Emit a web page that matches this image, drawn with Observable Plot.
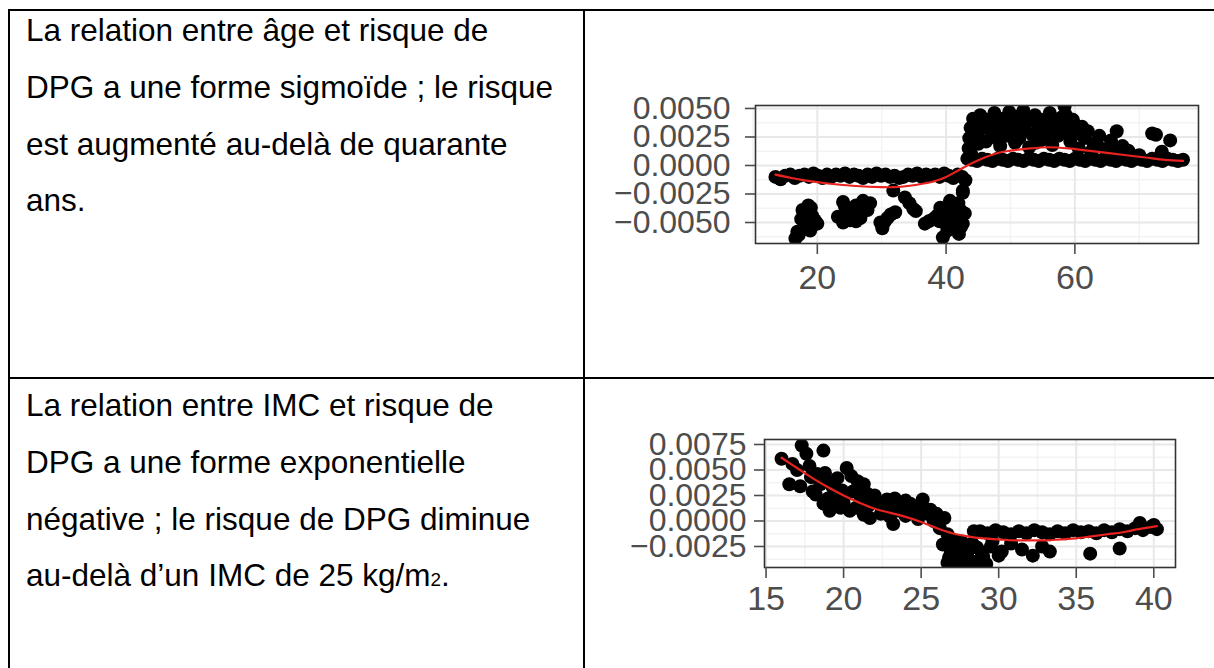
<!DOCTYPE html>
<html><head><meta charset="utf-8">
<script src="https://cdn.jsdelivr.net/npm/d3@7"></script>
<script src="https://cdn.jsdelivr.net/npm/@observablehq/plot@0.6"></script>
<style>
html,body{margin:0;padding:0;background:#fff;width:1214px;height:668px;overflow:hidden;}
.hl{position:absolute;background:#000;}
.txt{position:absolute;left:26px;font-family:"Liberation Sans",Arial,sans-serif;font-size:31.5px;line-height:56.8px;color:#000;white-space:nowrap;}
.chart{position:absolute;}
.sub{font-size:60%;}
</style></head><body>
<div class="hl" style="left:8px;top:9px;width:1206px;height:2px"></div>
<div class="hl" style="left:8px;top:9px;width:2px;height:659px"></div>
<div class="hl" style="left:583px;top:9px;width:2px;height:659px"></div>
<div class="hl" style="left:8px;top:377px;width:1206px;height:2px"></div>
<div class="txt" id="t1" style="top:2px"></div>
<div class="txt" id="t2" style="top:377px"></div>
<div class="chart" id="c1" style="left:600px;top:80px"></div>
<div class="chart" id="c2" style="left:600px;top:400px"></div>
<script>
// ---------- text ----------
const text1 = ["La relation entre âge et risque de", "DPG a une forme sigmoïde ; le risque", "est augmenté au-delà de quarante", "ans."];
const text2 = ["La relation entre IMC et risque de", "DPG a une forme exponentielle", "négative ; le risque de DPG diminue", "au-delà d’un IMC de 25 kg/m", "2", "."];

// ---------- age panel data ----------
const ageX = [13.5,14.3,15.0,15.8,16.5,17.2,18.0,18.7,19.4,20.1,20.8,21.5,22.2,22.9,23.6,24.3,25.0,25.7,26.4,27.1,27.8,28.5,29.2,29.9,30.6,31.3,32.0,32.7,33.4,34.1,34.8,35.5,36.2,36.9,37.6,38.3,39.0,39.7,40.4,41.1,41.8,42.5,43.0,
  18.6,19.2,17.7,20.0,18.1,17.1,16.6,18.9,24.0,24.0,25.6,27.1,26.7,27.8,25.1,24.6,26.0,30.1,30.9,32.1,31.8,33.6,34.9,36.7,38.6,39.1,39.8,40.2,41.1,42.2,42.6,41.9,39.5,42.6,40.6,41.4,40.6,42.6,
  17.5,18.3,19.6,16.9,19.0,18.5,23.2,24.3,25.3,26.3,27.4,26.0,28.2,29.8,30.5,31.4,34.3,35.3,37.3,38.0,39.0,40.0,41.0,41.8,42.3,40.9,42.9,42.0,39.9,
  43.3,43.5,43.6,43.8,44.2,43.9,44.1,
  44.6,44.9,45.3,45.8,46.2,46.6,47.1,47.5,48.0,48.4,48.9,49.3,49.8,50.2,50.7,51.1,51.6,52.0,52.5,52.9,53.4,53.8,54.3,54.7,55.2,55.6,56.1,56.5,57.0,57.4,57.9,58.4,58.8,59.3,59.7,60.2,60.6,61.1,61.5,62.0,62.9,63.8,64.7,65.6,66.5,67.4,68.3,
  44.3,45.0,45.5,46.9,47.8,48.6,49.5,50.0,50.9,51.4,52.2,53.1,53.9,54.5,55.4,56.3,57.2,58.1,58.6,59.5,
  44.0,44.8,45.6,46.4,47.2,48.0,48.8,49.6,50.4,51.2,52.0,52.8,53.6,54.4,55.2,56.0,56.8,57.6,58.4,59.2,60.0,60.8,61.6,62.4,63.2,64.0,64.8,65.6,66.4,67.2,68.0,68.8,69.6,70.4,71.2,72.0,72.8,73.6,74.4,75.2,76.0,76.8,
  62.5,63.5,65.0,66.5,68.5,70.0,72.0,72.6,74.8,73.5];
const ageY = [-0.0010,-0.0012,-0.0009,-0.0008,-0.0011,-0.0009,-0.0008,-0.0010,-0.0007,-0.0009,-0.0011,-0.0008,-0.0010,-0.0008,-0.0009,-0.0007,-0.0010,-0.0008,-0.0009,-0.0011,-0.0008,-0.0010,-0.0007,-0.0009,-0.0008,-0.0010,-0.0009,-0.0011,-0.0010,-0.0008,-0.0009,-0.0007,-0.0010,-0.0008,-0.0009,-0.0008,-0.0010,-0.0007,-0.0009,-0.0011,-0.0008,-0.0010,-0.0013,
  -0.0035,-0.0044,-0.0039,-0.0051,-0.0054,-0.0061,-0.0064,-0.0057,-0.0032,-0.0050,-0.0039,-0.0031,-0.0046,-0.0039,-0.0048,-0.0041,-0.0035,-0.0055,-0.0046,-0.0041,-0.0022,-0.0028,-0.0038,-0.0051,-0.0044,-0.0037,-0.0042,-0.0057,-0.0048,-0.0039,-0.0022,-0.0033,-0.0063,-0.0051,-0.0031,-0.0055,-0.0050,-0.0024,
  -0.0047,-0.0042,-0.0048,-0.0058,-0.0037,-0.0050,-0.0045,-0.0036,-0.0044,-0.0041,-0.0035,-0.0049,-0.0033,-0.0050,-0.0049,-0.0043,-0.0033,-0.0040,-0.0049,-0.0047,-0.0049,-0.0045,-0.0053,-0.0045,-0.0054,-0.0040,-0.0042,-0.0060,-0.0051,
  0.0006,0.0015,0.0024,0.0033,0.0041,0.0010,0.0021,
  0.0038,0.0027,0.0044,0.0033,0.0021,0.0040,0.0029,0.0046,0.0035,0.0017,0.0041,0.0026,0.0047,0.0034,0.0020,0.0043,0.0030,0.0048,0.0038,0.0016,0.0027,0.0044,0.0034,0.0022,0.0040,0.0030,0.0046,0.0018,0.0036,0.0026,0.0042,0.0052,0.0032,0.0021,0.0040,0.0028,0.0015,0.0034,0.0024,0.0030,0.0019,0.0026,0.0014,0.0022,0.0030,0.0017,0.0013,
  0.0030,0.0019,0.0036,0.0036,0.0024,0.0030,0.0037,0.0026,0.0038,0.0024,0.0033,0.0041,0.0020,0.0039,0.0026,0.0034,0.0040,0.0029,0.0044,0.0035,
  0.0005,0.0004,0.0006,0.0005,0.0004,0.0006,0.0005,0.0004,0.0006,0.0005,0.0004,0.0006,0.0005,0.0004,0.0006,0.0005,0.0004,0.0006,0.0005,0.0004,0.0006,0.0005,0.0004,0.0006,0.0005,0.0004,0.0006,0.0005,0.0004,0.0006,0.0005,0.0004,0.0006,0.0005,0.0004,0.0006,0.0005,0.0004,0.0006,0.0005,0.0004,0.0005,
  0.0012,0.0018,0.0010,0.0015,0.0011,0.0009,0.0028,0.0027,0.0022,0.0012];
const ageFitX = [13.5,16,18,22,26,30,32,34,38,40,42,44,46,48,50,53,56,59,62,65,68,71,74,76.8];
const ageFitY = [-0.0008,-0.0011,-0.0013,-0.0016,-0.0018,-0.0019,-0.0019,-0.0018,-0.0014,-0.0010,-0.0004,0.0002,0.0007,0.0011,0.0013,0.0015,0.0016,0.0015,0.0013,0.0011,0.0009,0.0007,0.0005,0.0004];
const ageXTicks = [20, 40, 60];
const ageXMinor = [10, 30, 50, 70];
const ageYTicks = [-0.005, -0.0025, 0, 0.0025, 0.005];
const ageYMinor = [-0.00625, -0.00375, -0.00125, 0.00125, 0.00375];

// ---------- BMI panel data ----------
const bmiX = [16.0,16.7,17.3,17.6,17.8,18.7,16.5,17.2,18.0,18.3,18.8,18.9,19.6,20.2,20.9,21.3,18.7,19.1,19.8,20.4,20.6,21.1,21.9,21.7,22.4,23.1,23.6,23.2,24.3,24.9,25.4,25.8,26.2,26.7,26.4,26.9,27.3,26.7,28.0,28.4,28.6,
  19.5,20.1,21.6,22.7,24.0,24.6,24.0,23.3,25.2,26.0,27.6,27.9,
  17.0,17.9,18.5,19.3,19.9,20.5,21.0,21.5,22.2,22.8,22.0,23.8,24.5,25.1,25.6,26.0,26.5,24.8,23.0,22.5,20.0,19.0,18.2,21.3,20.8,
  27.0,27.5,28.0,28.5,28.9,27.2,26.8,28.3,29.2,29.6,30.0,
  28.8,29.3,29.8,30.3,30.8,31.3,31.8,32.3,32.8,33.3,33.8,34.3,34.8,35.3,35.8,36.3,36.8,37.3,37.8,38.3,38.8,39.3,39.8,40.2,
  27.5,28.2,29.0,29.5,30.2,30.8,31.5,32.2,32.8,33.3,35.9,37.8,39.1,40.0];
const bmiY = [0.0061,0.0056,0.0074,0.0066,0.0054,0.0069,0.0036,0.0034,0.0029,0.0046,0.0047,0.0039,0.0042,0.0052,0.0039,0.0036,0.0017,0.0010,0.0013,0.0010,0.0029,0.0023,0.0020,0.0003,0.0007,0.0015,0.0010,-0.0003,0.0017,0.0015,0.0007,0.0000,-0.0007,-0.0013,-0.0023,-0.0032,-0.0039,-0.0041,-0.0036,-0.0010,-0.0026,
  0.0020,0.0025,0.0015,0.0015,0.0005,0.0008,0.0020,0.0022,0.0012,0.0004,-0.0020,-0.0040,
  0.0050,0.0043,0.0036,0.0033,0.0030,0.0044,0.0031,0.0027,0.0018,0.0021,0.0025,0.0013,0.0012,0.0021,0.0011,0.0007,0.0003,0.0002,0.0004,0.0012,0.0018,0.0022,0.0026,0.0006,0.0013,
  -0.0028,-0.0043,-0.0030,-0.0040,-0.0031,-0.0020,-0.0036,-0.0022,-0.0042,-0.0020,-0.0034,
  -0.0010,-0.0012,-0.0009,-0.0011,-0.0013,-0.0010,-0.0012,-0.0009,-0.0011,-0.0013,-0.0010,-0.0012,-0.0009,-0.0011,-0.0010,-0.0012,-0.0009,-0.0011,-0.0008,-0.0010,-0.0007,-0.0009,-0.0006,-0.0008,
  -0.0030,-0.0042,-0.0035,-0.0025,-0.0030,-0.0022,-0.0028,-0.0034,-0.0025,-0.0030,-0.0032,-0.0027,-0.0002,-0.0004];
const bmiFitX = [16,17,18,19,20,21,22,23,24,25,26,27,28,29,30,31,32,33,34,35,36,37,38,39,40.2];
const bmiFitY = [0.0062,0.0052,0.0042,0.0033,0.0025,0.0018,0.0012,0.0008,0.0004,-0.0001,-0.0007,-0.0012,-0.0015,-0.0017,-0.0018,-0.0019,-0.0019,-0.0019,-0.0018,-0.0017,-0.0015,-0.0013,-0.0011,-0.0008,-0.0005];
const bmiXTicks = [15, 20, 25, 30, 35, 40];
const bmiXMinor = [17.5, 22.5, 27.5, 32.5, 37.5];
const bmiYTicks = [-0.0025, 0, 0.0025, 0.005, 0.0075];
const bmiYMinor = [-0.00375, -0.00125, 0.00125, 0.00375, 0.00625];

// ---------- render text ----------
function lines(el, arr) { el.innerHTML = arr.map(s => `<div>${s}</div>`).join(""); }
lines(document.getElementById("t1"), text1);
document.getElementById("t2").innerHTML =
  `<div>${text2[0]}</div><div>${text2[1]}</div><div>${text2[2]}</div><div>${text2[3]}<span class="sub">${text2[4]}</span>${text2[5]}</div>`;

// ---------- charts ----------
const fmt = d3.format(".4f");
const font = "Liberation Sans, Arial, Helvetica, sans-serif";
function panel(o) {
  const pts = o.px.map((x, i) => ({x, y: o.py[i]}));
  const fit = o.fx.map((x, i) => ({x, y: o.fy[i]}));
  return Plot.plot({
    width: o.width, height: o.height,
    marginLeft: o.ml, marginRight: o.mr, marginTop: o.mt, marginBottom: o.mb,
    style: {fontFamily: font, fontSize: "32px", background: "transparent", overflow: "visible"},
    x: {domain: o.xd}, y: {domain: o.yd},
    marks: [
      Plot.gridX(o.xMinor, {stroke: "#f3f3f3", strokeOpacity: 1, strokeWidth: 1.5}),
      Plot.gridY(o.yMinor, {stroke: "#f3f3f3", strokeOpacity: 1, strokeWidth: 1.5}),
      Plot.gridX(o.xTicks, {stroke: "#e8e8e8", strokeOpacity: 1, strokeWidth: 2}),
      Plot.gridY(o.yTicks, {stroke: "#e8e8e8", strokeOpacity: 1, strokeWidth: 2}),
      Plot.dot(pts, {x: "x", y: "y", r: 7, fill: "#000", stroke: "none", clip: true}),
      Plot.line(fit, {x: "x", y: "y", stroke: "#e8231f", strokeWidth: 2.2, curve: "catmull-rom", clip: true}),
      Plot.frame({stroke: "#333", strokeWidth: 1.6}),
      Plot.axisX(o.xTicks, {tickSize: 11, tickPadding: o.xpad, color: "#4d4d4d", fontSize: 34, label: null, strokeWidth: 1.6}),
      Plot.axisY(o.yTicks, {tickSize: 10, tickPadding: o.ypad, tickFormat: fmt, color: "#4d4d4d", fontSize: 32, label: null, strokeWidth: 1.6})
    ]
  });
}
document.getElementById("c1").appendChild(panel({
  width: 614, height: 220, ml: 155, mr: 16, mt: 25, mb: 57,
  xd: [10.4, 79.2], yd: [-0.00684, 0.00526],
  px: ageX, py: ageY, fx: ageFitX, fy: ageFitY,
  xTicks: ageXTicks, xMinor: ageXMinor, yTicks: ageYTicks, yMinor: ageYMinor,
  xpad: 10, ypad: 15
}));
document.getElementById("c2").appendChild(panel({
  width: 614, height: 230, ml: 164, mr: 39, mt: 39, mb: 63,
  xd: [14.9, 41.4], yd: [-0.00456, 0.00799],
  px: bmiX, py: bmiY, fx: bmiFitX, fy: bmiFitY,
  xTicks: bmiXTicks, xMinor: bmiXMinor, yTicks: bmiYTicks, yMinor: bmiYMinor,
  xpad: 7, ypad: 8
}));
</script>
</body></html>
